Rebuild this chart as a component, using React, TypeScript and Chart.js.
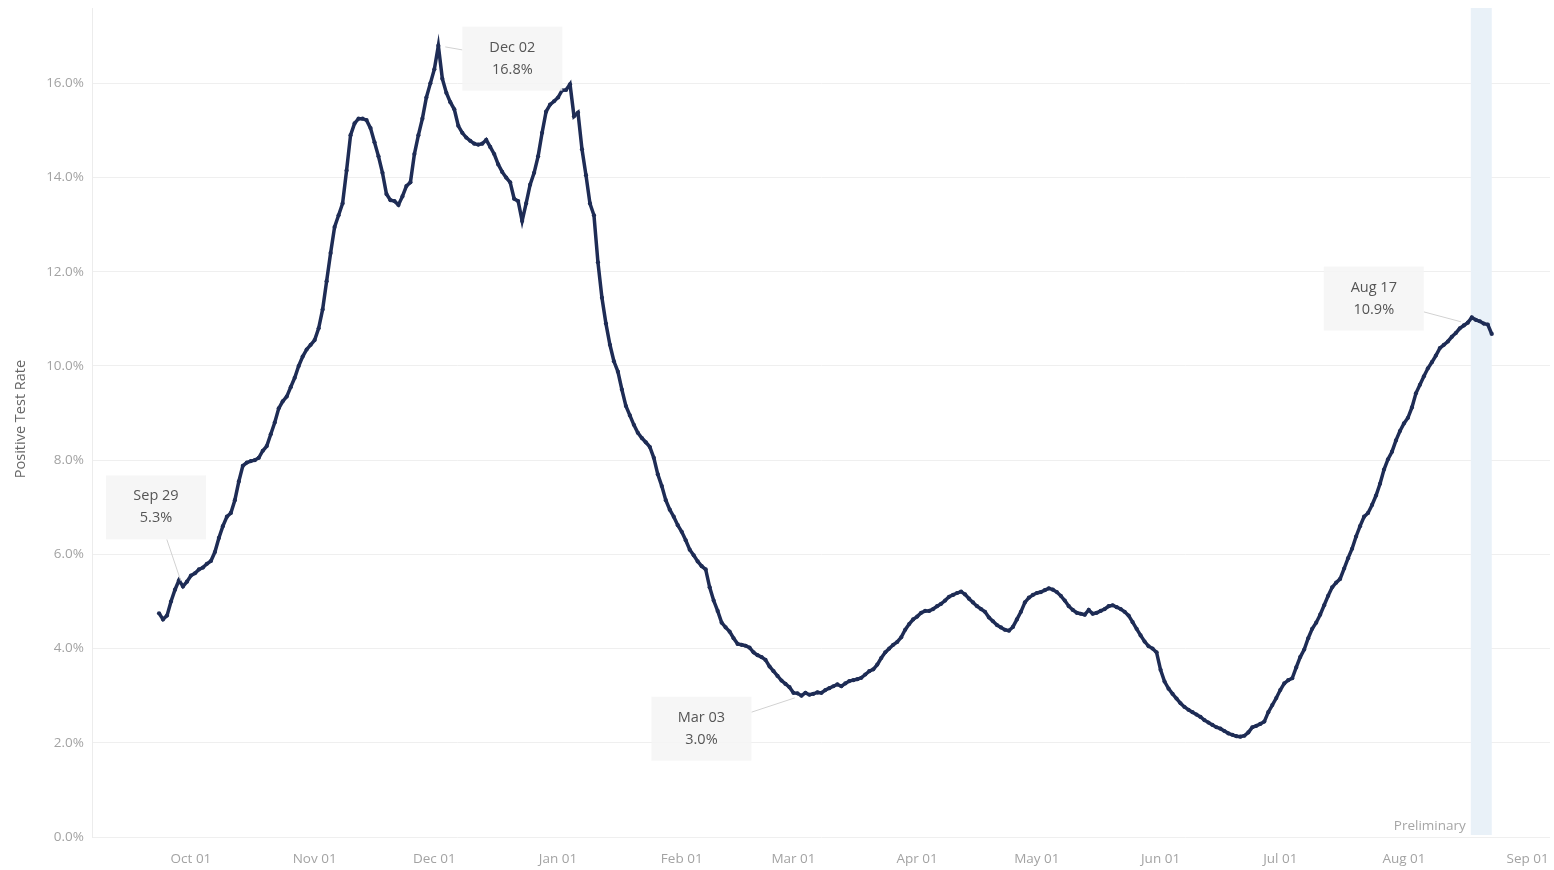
import React, { useEffect, useRef } from "react";
import { Chart, registerables } from "chart.js";

Chart.register(...registerables);

// Day index 0 = Oct 01 2020. First data point is Sep 23 2020.
const FIRST_DAY = -8;

const sep2020 = [4.75, 4.62, 4.7, 5.0, 5.25, 5.45, 5.32, 5.42];
const oct2020 = [
  5.55, 5.6, 5.68, 5.72, 5.8, 5.86, 6.05, 6.35, 6.6, 6.8, 6.88, 7.15, 7.55, 7.88, 7.95, 7.98,
  8.0, 8.05, 8.2, 8.3, 8.55, 8.8, 9.1, 9.25, 9.35, 9.55, 9.75, 10.0, 10.2, 10.35, 10.45,
];
const nov2020 = [
  10.55, 10.8, 11.2, 11.8, 12.4, 12.95, 13.2, 13.45, 14.15, 14.9, 15.15, 15.25, 15.25, 15.22,
  15.05, 14.75, 14.45, 14.1, 13.65, 13.52, 13.5, 13.42, 13.6, 13.82, 13.9, 14.5, 14.9, 15.25,
  15.7, 16.0,
];
const dec2020 = [
  16.3, 16.8, 16.1, 15.8, 15.6, 15.45, 15.1, 14.95, 14.85, 14.78, 14.72, 14.7, 14.72, 14.8,
  14.65, 14.5, 14.28, 14.12, 14.0, 13.9, 13.55, 13.5, 13.08, 13.45, 13.85, 14.1, 14.45, 14.95,
  15.4, 15.55, 15.62,
];
const jan2021 = [
  15.7, 15.85, 15.86, 15.98, 15.3, 15.38, 14.6, 14.05, 13.45, 13.2, 12.2, 11.45, 10.9, 10.45,
  10.1, 9.88, 9.5, 9.15, 8.95, 8.75, 8.58, 8.47, 8.38, 8.28, 8.05, 7.7, 7.45, 7.15, 6.95, 6.8,
  6.62,
];
const feb2021 = [
  6.48, 6.3, 6.1, 5.98, 5.85, 5.75, 5.68, 5.3, 5.02, 4.8, 4.55, 4.45, 4.36, 4.22, 4.1, 4.08,
  4.06, 4.02, 3.92, 3.86, 3.82, 3.76, 3.62, 3.52, 3.42, 3.32, 3.25, 3.18,
];
const mar2021 = [
  3.06, 3.05, 3.0, 3.06, 3.02, 3.04, 3.07, 3.06, 3.12, 3.16, 3.2, 3.24, 3.2, 3.26, 3.31, 3.33,
  3.35, 3.38, 3.45, 3.52, 3.56, 3.66, 3.8, 3.92, 4.0, 4.08, 4.14, 4.24, 4.4, 4.52, 4.62,
];
const apr2021 = [
  4.68, 4.76, 4.8, 4.8, 4.84, 4.9, 4.95, 5.02, 5.1, 5.14, 5.18, 5.21, 5.15, 5.06, 4.98, 4.9,
  4.84, 4.78, 4.66, 4.58, 4.5, 4.45, 4.4, 4.38, 4.46, 4.62, 4.78, 4.98, 5.08, 5.14,
];
const may2021 = [
  5.18, 5.2, 5.24, 5.28, 5.25, 5.2, 5.12, 5.02, 4.9, 4.82, 4.76, 4.74, 4.72, 4.82, 4.74, 4.76,
  4.8, 4.84, 4.9, 4.92, 4.88, 4.84, 4.78, 4.7, 4.56, 4.42, 4.28, 4.15, 4.05, 4.0, 3.92,
];
const jun2021 = [
  3.55, 3.3, 3.15, 3.04, 2.94, 2.84, 2.76, 2.7, 2.65, 2.6, 2.55, 2.48, 2.43, 2.38, 2.33, 2.3,
  2.25, 2.2, 2.17, 2.14, 2.13, 2.15, 2.22, 2.33, 2.36, 2.4, 2.45, 2.65, 2.8, 2.95,
];
const jul2021 = [
  3.12, 3.26, 3.33, 3.37, 3.6, 3.82, 3.98, 4.22, 4.42, 4.55, 4.72, 4.92, 5.12, 5.3, 5.4, 5.48,
  5.7, 5.92, 6.12, 6.38, 6.6, 6.8, 6.88, 7.05, 7.25, 7.5, 7.8, 8.02, 8.18, 8.42, 8.62,
];
const aug2021 = [
  8.78, 8.9, 9.12, 9.42, 9.6, 9.78, 9.95, 10.08, 10.22, 10.38, 10.45, 10.52, 10.62, 10.7, 10.8,
  10.86, 10.92, 11.03, 10.98, 10.95, 10.9, 10.88, 10.68,
];

const monthTickDays = [0, 31, 61, 92, 123, 151, 182, 212, 243, 273, 304, 335];
const monthTickLabels = [
  "Oct 01", "Nov 01", "Dec 01", "Jan 01", "Feb 01", "Mar 01",
  "Apr 01", "May 01", "Jun 01", "Jul 01", "Aug 01", "Sep 01",
];
const yTickValues = [0, 2, 4, 6, 8, 10, 12, 14, 16];

const calloutLabels = ["Sep 29", "Dec 02", "Mar 03", "Aug 17"];
const calloutDays = [-2, 62, 153, 320];
const calloutValues = [5.3, 16.8, 3.0, 10.9];

const prelimStartDay = 320.75;
const prelimEndDay = 326;
const prelimLabel = "Preliminary";
const yAxisTitle = "Positive Test Rate";

// styling only (pixel offsets of callout boxes from their points)
const calloutOffsets = [
  [-27, -80],
  [74, 13],
  [-100, 33],
  [-94, -25],
];

const FONT = '"Open Sans", "DejaVu Sans", sans-serif';
const LINE_COLOR = "#1e2c55";

const overlayPlugin = {
  id: "overlay",
  beforeDatasetsDraw(chart: any) {
    const { ctx, chartArea, scales } = chart;
    const x = scales.x;
    const x0 = x.getPixelForValue(prelimStartDay);
    const x1 = x.getPixelForValue(prelimEndDay);
    ctx.save();
    ctx.fillStyle = "#e9f1f8";
    ctx.fillRect(x0, chartArea.top, x1 - x0, chartArea.bottom - chartArea.top - 2);
    ctx.font = `13.5px ${FONT}`;
    ctx.fillStyle = "#a6a6a6";
    ctx.textAlign = "right";
    ctx.textBaseline = "middle";
    ctx.fillText(prelimLabel, x0 - 5, chartArea.bottom - 11);
    ctx.restore();
  },
  afterDatasetsDraw(chart: any) {
    const { ctx, chartArea, scales } = chart;
    const x = scales.x;
    const y = scales.y;
    ctx.save();
    calloutLabels.forEach((lab, i) => {
      const px = x.getPixelForValue(calloutDays[i]);
      const py = y.getPixelForValue(calloutValues[i]);
      const cx = px + calloutOffsets[i][0];
      const cy = py + calloutOffsets[i][1];
      const w = 100;
      const h = 64;
      const dx = cx - px;
      const dy = cy - py;
      const tx = Math.abs(dx) > 0 ? (w / 2) / Math.abs(dx) : Infinity;
      const ty = Math.abs(dy) > 0 ? (h / 2) / Math.abs(dy) : Infinity;
      const t = Math.min(tx, ty);
      const ex = cx - dx * t;
      const ey = cy - dy * t;
      const len = Math.hypot(dx, dy);
      const sx = px + (dx / len) * 7;
      const sy = py + (dy / len) * 7;
      ctx.strokeStyle = "#d2d2d2";
      ctx.lineWidth = 1;
      ctx.beginPath();
      ctx.moveTo(sx, sy);
      ctx.lineTo(ex, ey);
      ctx.stroke();
      ctx.fillStyle = "rgba(245,245,245,0.85)";
      ctx.fillRect(cx - w / 2, cy - h / 2, w, h);
      ctx.fillStyle = "#555555";
      ctx.font = `14.5px ${FONT}`;
      ctx.textAlign = "center";
      ctx.textBaseline = "middle";
      ctx.fillText(lab, cx, cy - 11);
      ctx.fillText(calloutValues[i].toFixed(1) + "%", cx, cy + 11);
    });
    ctx.translate(21, 419);
    ctx.rotate(-Math.PI / 2);
    ctx.fillStyle = "#666666";
    ctx.font = `14.5px ${FONT}`;
    ctx.textAlign = "center";
    ctx.textBaseline = "middle";
    ctx.fillText(yAxisTitle, 0, 0);
    ctx.restore();
  },
};

export default function App() {
  const canvasRef = useRef<HTMLCanvasElement | null>(null);

  useEffect(() => {
    if (!canvasRef.current) return;
    const series = [
      ...sep2020, ...oct2020, ...nov2020, ...dec2020, ...jan2021, ...feb2021,
      ...mar2021, ...apr2021, ...may2021, ...jun2021, ...jul2021, ...aug2021,
    ];
    const points = series.map((v, i) => ({ x: FIRST_DAY + i, y: v }));

    const chart = new Chart(canvasRef.current, {
      type: "line",
      data: {
        datasets: [
          {
            data: points,
            borderColor: LINE_COLOR,
            borderWidth: 3.5,
            pointRadius: 2.1,
            pointBackgroundColor: LINE_COLOR,
            pointBorderWidth: 0,
            tension: 0,
          },
        ],
      },
      options: {
        animation: false,
        responsive: false,
        layout: { padding: { top: 8, right: 4, left: 0, bottom: 0 } },
        plugins: { legend: { display: false }, tooltip: { enabled: false } },
        scales: {
          x: {
            type: "linear",
            min: -24.8,
            max: 340.6,
            afterBuildTicks: (scale: any) => {
              scale.ticks = monthTickDays.map((v) => ({ value: v }));
            },
            afterFit: (scale: any) => {
              scale.height = 33;
              scale.paddingLeft = 0;
              scale.paddingRight = 0;
            },
            grid: { display: false },
            border: { display: false },
            ticks: {
              autoSkip: false,
              maxRotation: 0,
              padding: 6,
              color: "#a3a3a3",
              font: { family: FONT, size: 13.5 },
              callback: (v: any) => {
                const idx = monthTickDays.indexOf(Number(v));
                return idx >= 0 ? monthTickLabels[idx] : "";
              },
            },
          },
          y: {
            type: "linear",
            min: 0,
            max: 17.6,
            afterBuildTicks: (scale: any) => {
              scale.ticks = yTickValues.map((v) => ({ value: v }));
            },
            afterFit: (scale: any) => {
              scale.width = 92;
              scale.paddingTop = 0;
              scale.paddingBottom = 0;
            },
            grid: { color: "#efefef", lineWidth: 1, drawTicks: false },
            border: { display: true, color: "#ececec" },
            ticks: {
              padding: 8,
              color: "#a3a3a3",
              font: { family: FONT, size: 13.5 },
              callback: (v: any) => Number(v).toFixed(1) + "%",
            },
          },
        },
      },
      plugins: [overlayPlugin],
    });
    return () => chart.destroy();
  }, []);

  return (
    <div style={{ position: "fixed", left: 0, top: 0, width: 1554, height: 870, background: "#fff" }}>
      <canvas ref={canvasRef} width={1554} height={870} style={{ display: "block" }} />
    </div>
  );
}
